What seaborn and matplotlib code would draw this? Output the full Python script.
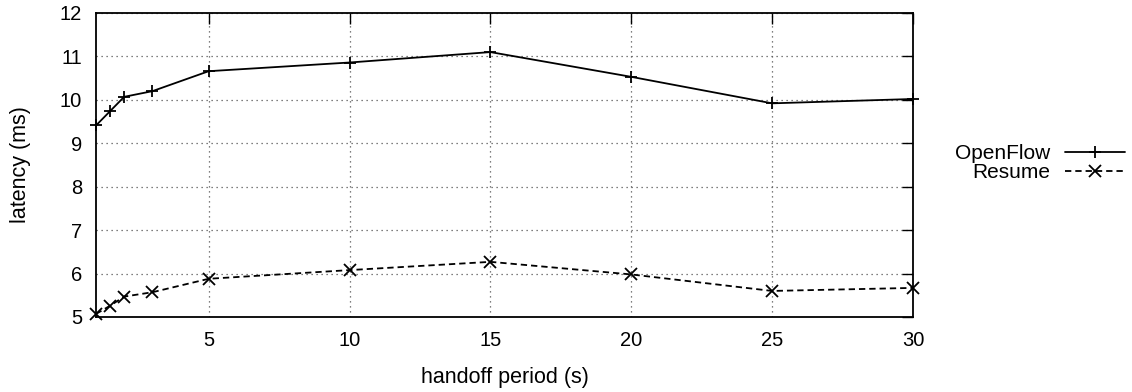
import matplotlib
matplotlib.use("Agg")
import matplotlib.pyplot as plt
import seaborn as sns
import pandas as pd

periods = [1, 1.5, 2, 3, 5, 10, 15, 20, 25, 30]
openflow = [9.41, 9.74, 10.07, 10.20, 10.66, 10.86, 11.10, 10.53, 9.92, 10.02]
resume = [5.07, 5.26, 5.47, 5.57, 5.88, 6.08, 6.27, 5.98, 5.60, 5.67]
x_ticks = [5, 10, 15, 20, 25, 30]
y_ticks = [5, 6, 7, 8, 9, 10, 11, 12]

sns.set_theme(style="white")
plt.rcParams['font.family'] = ['Liberation Sans', 'DejaVu Sans']
plt.rcParams['text.color'] = 'black'
plt.rcParams['axes.labelcolor'] = 'black'
plt.rcParams['xtick.color'] = 'black'
plt.rcParams['ytick.color'] = 'black'

df = pd.DataFrame({
    "period": periods * 2,
    "latency": openflow + resume,
    "series": ["OpenFlow"] * len(periods) + ["Resume"] * len(periods),
})

fig = plt.figure(figsize=(11.32, 3.92), dpi=100)
ax = fig.add_axes([96/1132, 1-317/392, (913-96)/1132, (317-13)/392])

sns.lineplot(data=df, x="period", y="latency", style="series",
             markers={"OpenFlow": "+", "Resume": "x"},
             dashes={"OpenFlow": "", "Resume": (3.5, 2.2)},
             color="black", linewidth=1.3, markersize=8, markeredgewidth=1.3,
             markeredgecolor="black", clip_on=False,
             ax=ax, legend=True)

ax.set_xlim(1, 30)
ax.set_ylim(5, 12)
ax.set_xticks(x_ticks)
ax.set_yticks(y_ticks)
ax.set_xlabel("handoff period (s)", fontsize=15.5, labelpad=12)
ax.set_ylabel("latency (ms)", fontsize=15.5, labelpad=21)
ax.tick_params(axis="both", which="major", direction="in", length=8, width=1,
               labelsize=14.5, top=True, right=True, color="black")
ax.tick_params(axis="x", pad=10)
ax.tick_params(axis="y", pad=10)
ax.grid(True, linestyle=(0, (1, 3)), color="#555555", linewidth=0.9)
for s in ax.spines.values():
    s.set_visible(True)
    s.set_color("black")
    s.set_linewidth(1.3)

handles, labels = ax.get_legend_handles_labels()
for h in handles:
    h.set_markeredgecolor("black")
    h.set_color("black")
leg = ax.legend(handles, labels, loc="center right",
                bbox_to_anchor=(1125/1132, 1-163/392), bbox_transform=fig.transFigure,
                frameon=False, markerfirst=False, fontsize=15, handlelength=2.9,
                handletextpad=0.7, labelspacing=0.0, borderaxespad=0.0, borderpad=0.0)

fig.savefig("out.png", dpi=100)
